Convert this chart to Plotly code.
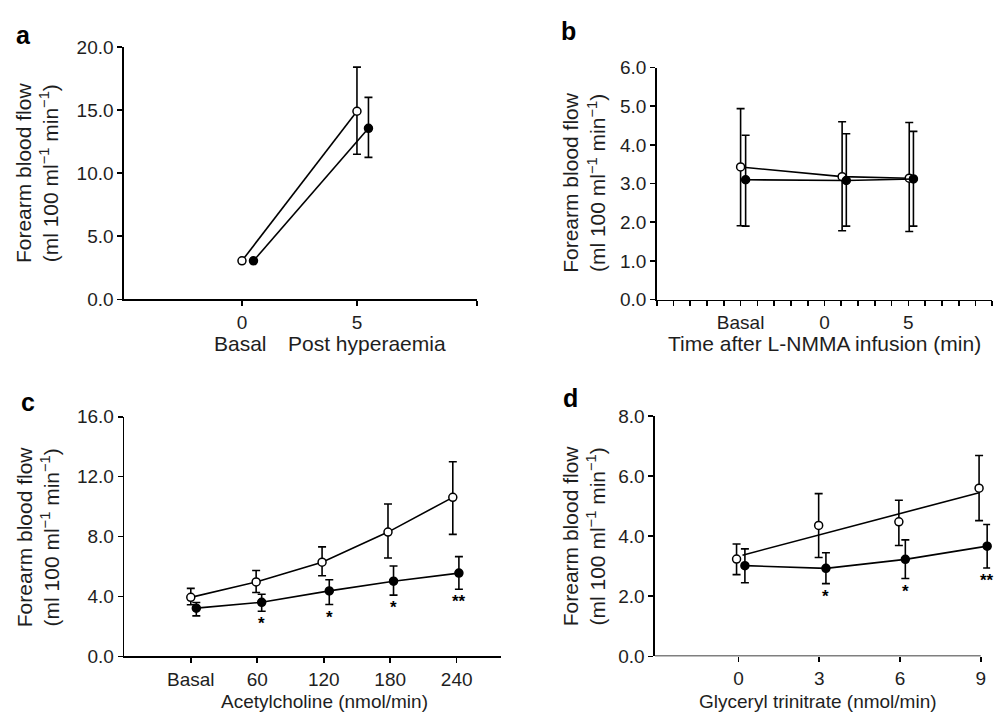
import plotly.graph_objects as go

W, H = 998, 722

# ---------------- data ----------------
# Panel a
a_open_x = [0, 5]
a_open_y = [3.05, 14.9]
a_open_hi = [3.05, 18.4]
a_open_lo = [3.05, 11.5]
a_fill_x = [0.5, 5.5]
a_fill_y = [3.05, 13.55]
a_fill_hi = [3.05, 16.0]
a_fill_lo = [3.05, 11.25]

# Panel b
b_open_x = [-5.0, 1.05, 5.05]
b_open_y = [3.43, 3.18, 3.14]
b_open_hi = [4.94, 4.60, 4.58]
b_open_lo = [1.91, 1.78, 1.76]
b_fill_x = [-4.7, 1.3, 5.3]
b_fill_y = [3.10, 3.08, 3.12]
b_fill_hi = [4.25, 4.29, 4.35]
b_fill_lo = [1.90, 1.90, 1.90]
b_tickvals = [-5, 0, 5]
b_ticktext = ["Basal", "0", "5"]

# Panel c
c_categories = ["Basal", "60", "120", "180", "240"]
c_tickvals = [0, 60, 120, 180, 240]
c_open_x = [0, 59, 118.5, 178, 236.5]
c_open_y = [3.94, 4.97, 6.29, 8.30, 10.62]
c_open_hi = [4.54, 5.73, 7.31, 10.18, 13.0]
c_open_lo = [3.45, 4.26, 5.38, 6.57, 8.15]
c_fill_x = [5, 64, 125, 183, 242]
c_fill_y = [3.22, 3.61, 4.37, 5.02, 5.56]
c_fill_hi = [3.60, 4.15, 5.12, 6.03, 6.66]
c_fill_lo = [2.70, 3.01, 3.46, 4.09, 4.48]
c_sig = ["", "*", "*", "*", "**"]

# Panel d
d_tickvals = [0, 3, 6, 9]
d_open_x = [-0.07, 2.98, 5.96, 8.94]
d_open_y = [3.24, 4.36, 4.48, 5.60]
d_open_hi = [3.74, 5.42, 5.20, 6.69]
d_open_lo = [2.72, 3.29, 3.69, 4.52]
d_open_fit_x = [0.15, 8.94]
d_open_fit_y = [3.37, 5.45]
d_fill_x = [0.24, 3.25, 6.2, 9.24]
d_fill_y = [3.02, 2.93, 3.23, 3.67]
d_fill_hi = [3.58, 3.45, 3.88, 4.39]
d_fill_lo = [2.45, 2.42, 2.59, 2.94]
d_sig = ["", "*", "*", "**"]

YTITLE = "Forearm blood flow<br>(ml 100 ml<sup>\u22121</sup> min<sup>\u22121</sup>)"

# ---------------- styling ----------------
FONT = "Liberation Sans, Arial, Helvetica, sans-serif"
TXT = "#1e1e1e"
LW = 1.6
MS = 8


def px(x):
    return x / W


def py(y):
    return 1 - y / H


fig = go.Figure()


def add_series(xs, ys, hi, lo, filled, xa, ya, lines=True):
    plus = [h - m for h, m in zip(hi, ys)]
    minus = [m - l for m, l in zip(ys, lo)]
    fig.add_trace(go.Scatter(
        x=xs, y=ys, xaxis=xa, yaxis=ya,
        mode="lines+markers" if lines else "markers",
        line=dict(color="black", width=LW),
        marker=dict(size=MS, color="black" if filled else "white",
                    line=dict(color="black", width=1.5)),
        error_y=dict(type="data", array=plus, arrayminus=minus,
                     color="black", thickness=1.6, width=4, symmetric=False),
        cliponaxis=False, showlegend=False, hoverinfo="skip"))


# panel a
add_series(a_open_x, a_open_y, a_open_hi, a_open_lo, False, "x", "y")
add_series(a_fill_x, a_fill_y, a_fill_hi, a_fill_lo, True, "x", "y")
# panel b
add_series(b_open_x, b_open_y, b_open_hi, b_open_lo, False, "x2", "y2")
add_series(b_fill_x, b_fill_y, b_fill_hi, b_fill_lo, True, "x2", "y2")
# panel c
add_series(c_open_x, c_open_y, c_open_hi, c_open_lo, False, "x3", "y3")
add_series(c_fill_x, c_fill_y, c_fill_hi, c_fill_lo, True, "x3", "y3")
# panel d
fig.add_trace(go.Scatter(x=d_open_fit_x, y=d_open_fit_y, xaxis="x4", yaxis="y4",
                         mode="lines", line=dict(color="black", width=LW),
                         showlegend=False, hoverinfo="skip", cliponaxis=False))
add_series(d_open_x, d_open_y, d_open_hi, d_open_lo, False, "x4", "y4", lines=False)
add_series(d_fill_x, d_fill_y, d_fill_hi, d_fill_lo, True, "x4", "y4")

TICK = 19
axis_common = dict(showline=True, linecolor="black", linewidth=1.6,
                   ticks="outside", ticklen=5, tickwidth=1.6, tickcolor="black",
                   showgrid=False, zeroline=False,
                   tickfont=dict(family=FONT, size=TICK, color=TXT))
axis_noline = dict(axis_common, showline=False)
minor_style = dict(ticks="outside", ticklen=5, tickwidth=1.6, tickcolor="black",
                   showgrid=False)

# panel d: data range reaches a bit past the last tick (points are offset),
# axis line itself stops at tick 9
D_LEFT, D_LAST, D_RIGHT = -3.1, 9, 9.35
D_PX0, D_PX9 = 655.0, 980.7
d_ppu = (D_PX9 - D_PX0) / (D_LAST - D_LEFT)
d_px_right = D_PX0 + d_ppu * (D_RIGHT - D_LEFT)

A_RANGE = [-5.13, 10.22]

fig.update_layout(
    width=W, height=H, autosize=False,
    margin=dict(l=0, r=0, t=0, b=0),
    paper_bgcolor="white", plot_bgcolor="white",
    font=dict(family=FONT, color=TXT),
    xaxis=dict(domain=[px(124), px(477)], range=A_RANGE, anchor="y",
               tickvals=[0, 5], ticktext=["0", "5"],
               minor=dict(tickmode="array", tickvals=[A_RANGE[1]], **minor_style),
               **axis_common),
    yaxis=dict(domain=[py(298), py(38)], range=[0, 20], anchor="x",
               tickvals=[0, 5, 10, 15, 20], tickformat=".1f", **axis_common),
    xaxis2=dict(domain=[px(656.7), px(992.3)], range=[-10, 10], anchor="y2",
                tickvals=b_tickvals, ticktext=b_ticktext,
                minor=dict(tickmode="linear", tick0=0, dtick=1, **minor_style),
                **axis_common),
    yaxis2=dict(domain=[py(298.3), py(59.3)], range=[0, 6], anchor="x2",
                tickvals=[0, 1, 2, 3, 4, 5, 6], tickformat=".1f", **axis_common),
    xaxis3=dict(domain=[px(124.3), px(501)], range=[-60, 280], anchor="y3",
                tickvals=c_tickvals, ticktext=c_categories, **axis_common),
    yaxis3=dict(domain=[py(665.7), py(419)], range=[0, 16], anchor="x3",
                tickvals=[0, 4, 8, 12, 16], tickformat=".1f", **axis_common),
    xaxis4=dict(domain=[px(D_PX0), px(d_px_right)], range=[D_LEFT, D_RIGHT], anchor="y4",
                tickvals=d_tickvals, ticktext=[str(v) for v in d_tickvals], **axis_noline),
    yaxis4=dict(domain=[py(665.7), py(418.3)], range=[0, 8], anchor="x4",
                tickvals=[0, 2, 4, 6, 8], tickformat=".1f", **axis_common),
    shapes=[dict(type="line", xref="x4", yref="y4", x0=D_LEFT, x1=D_LAST, y0=0, y1=0,
                 line=dict(color="black", width=1.6), layer="above")],
)

ann = []
# panel letters
for letter, x, y in [("a", 23, 26), ("b", 568, 22), ("c", 28, 404), ("d", 570, 400)]:
    ann.append(dict(text=f"<b>{letter}</b>", x=px(x), y=py(y), xref="paper", yref="paper",
                    showarrow=False, xanchor="center", yanchor="middle",
                    font=dict(family=FONT, size=25, color="black")))
# y titles
for x, y in [(37, 168), (584, 178), (38, 543), (584, 542)]:
    ann.append(dict(text=YTITLE, x=px(x), y=py(y), xref="paper", yref="paper",
                    showarrow=False, textangle=-90, xanchor="center", yanchor="middle",
                    font=dict(family=FONT, size=21, color=TXT)))
# x titles
ann.append(dict(text="Basal", x=px(240), y=py(343), xref="paper", yref="paper",
                showarrow=False, xanchor="center", yanchor="middle",
                font=dict(family=FONT, size=21, color=TXT)))
ann.append(dict(text="Post hyperaemia", x=px(286), y=py(343), xref="paper", yref="paper",
                showarrow=False, xanchor="left", yanchor="middle",
                font=dict(family=FONT, size=21, color=TXT)))
ann.append(dict(text="Time after L-NMMA infusion (min)", x=px(824), y=py(343),
                xref="paper", yref="paper", showarrow=False, xanchor="center",
                yanchor="middle", font=dict(family=FONT, size=21, color=TXT)))
ann.append(dict(text="Acetylcholine (nmol/min)", x=px(324), y=py(712),
                xref="paper", yref="paper", showarrow=False, xanchor="center",
                yanchor="middle", font=dict(family=FONT, size=19, color=TXT)))
ann.append(dict(text="Glyceryl trinitrate (nmol/min)", x=px(818), y=py(712),
                xref="paper", yref="paper", showarrow=False, xanchor="center",
                yanchor="middle", font=dict(family=FONT, size=19, color=TXT)))
# significance markers
for xs, lo, sig, xr, yr in [(c_fill_x, c_fill_lo, c_sig, "x3", "y3"),
                            (d_fill_x, d_fill_lo, d_sig, "x4", "y4")]:
    for xv, lv, s in zip(xs, lo, sig):
        if s:
            ann.append(dict(text=f"<b>{s}</b>", x=xv, y=lv, xref=xr, yref=yr,
                            showarrow=False, xanchor="center", yanchor="top",
                            yshift=-1, font=dict(family=FONT, size=17, color="black")))

fig.update_layout(annotations=ann)

fig.write_html("out.html", config={"displayModeBar": False, "staticPlot": True})

# remove the browser's default 8px body margin so the figure sits at (0, 0)
with open("out.html", "r", encoding="utf-8") as f:
    html = f.read()
html = html.replace("<head>", "<head><style>html,body{margin:0;padding:0;overflow:hidden;}</style>", 1)
with open("out.html", "w", encoding="utf-8") as f:
    f.write(html)
